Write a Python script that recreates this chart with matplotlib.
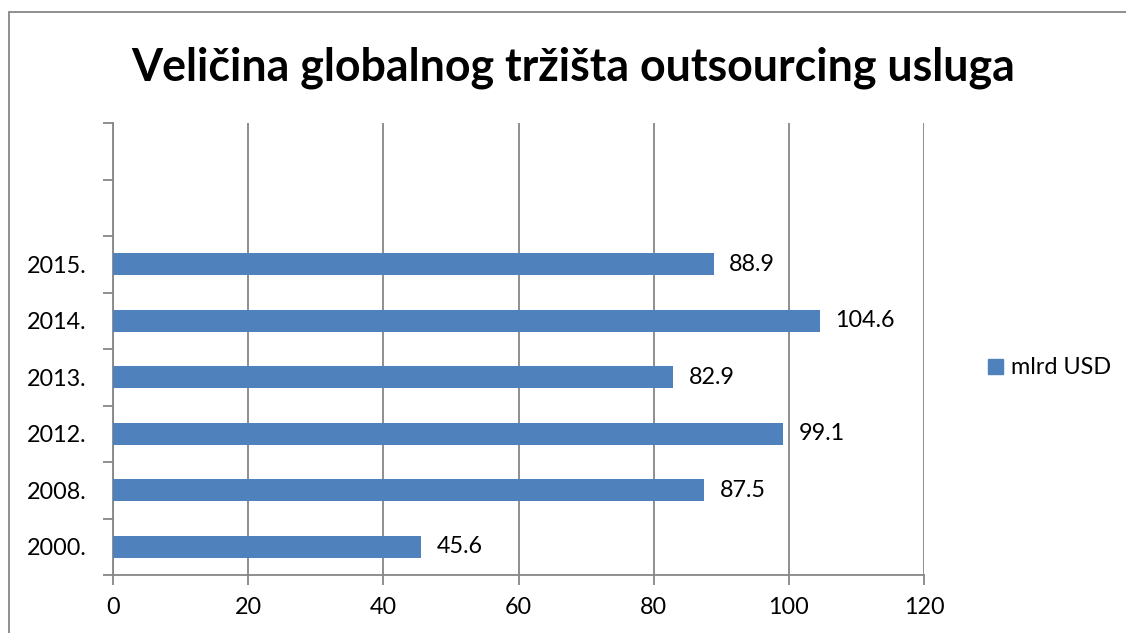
import matplotlib
matplotlib.use("Agg")
import matplotlib.pyplot as plt
from matplotlib.patches import Rectangle, Patch
import numpy as np

categories = ["2000.", "2008.", "2012.", "2013.", "2014.", "2015."]
values = [45.6, 87.5, 99.1, 82.9, 104.6, 88.9]
series_name = "mlrd USD"
title = "Veličina globalnog tržišta outsourcing usluga"
xticks = [0, 20, 40, 60, 80, 100, 120]

plt.rcParams['font.family'] = ['Lato', 'DejaVu Sans']
BAR = "#4F81BD"
GRID = "#868686"
FS = 16.8

fig = plt.figure(figsize=(11.26, 6.33), dpi=100)
fig.patches.append(Rectangle((9/1126, -0.1), 1.2, 1 - 12/633 + 0.1, transform=fig.transFigure,
                             fill=False, edgecolor=GRID, linewidth=1.3))

ax = fig.add_axes([113/1126, 1 - 575/633, (924 - 113)/1126, (575 - 123)/633])
y = np.arange(len(categories))
ax.barh(y, values, height=0.39, color=BAR, zorder=3, label=series_name)
for yi, v in zip(y, values):
    ax.text(v + 2.3, yi, f"{v:.1f}", va="center", ha="left", fontsize=FS, color="black")

ax.set_xlim(0, 120)
ax.set_ylim(-0.5, 7.5)
ax.set_xticks(xticks)
ax.set_xticklabels([str(t) for t in xticks], fontsize=FS)
ax.set_yticks(y)
ax.set_yticklabels(categories, fontsize=FS)
ax.set_yticks(np.arange(-0.5, 8.0, 1.0), minor=True)
ax.tick_params(axis="y", which="major", length=0, pad=19)
ax.tick_params(axis="y", which="minor", length=7, color=GRID, width=1.3)
ax.tick_params(axis="x", length=7, color=GRID, width=1.3, pad=9)
ax.grid(axis="x", color=GRID, linewidth=1.3, zorder=0)
for s in ["top", "right"]:
    ax.spines[s].set_visible(False)
for s in ["left", "bottom"]:
    ax.spines[s].set_color(GRID)
    ax.spines[s].set_linewidth(1.3)

fig.text(573/1126, 1 - 68/633, title, ha="center", va="center", fontsize=32.2, fontweight="bold")

fig.legend(handles=[Patch(color=BAR, label=series_name)], loc="center left",
           bbox_to_anchor=(967/1126, 1 - 368/633), frameon=False, fontsize=FS,
           handlelength=0.65, handleheight=0.65, handletextpad=0.35)

fig.savefig("out.png", dpi=100)
